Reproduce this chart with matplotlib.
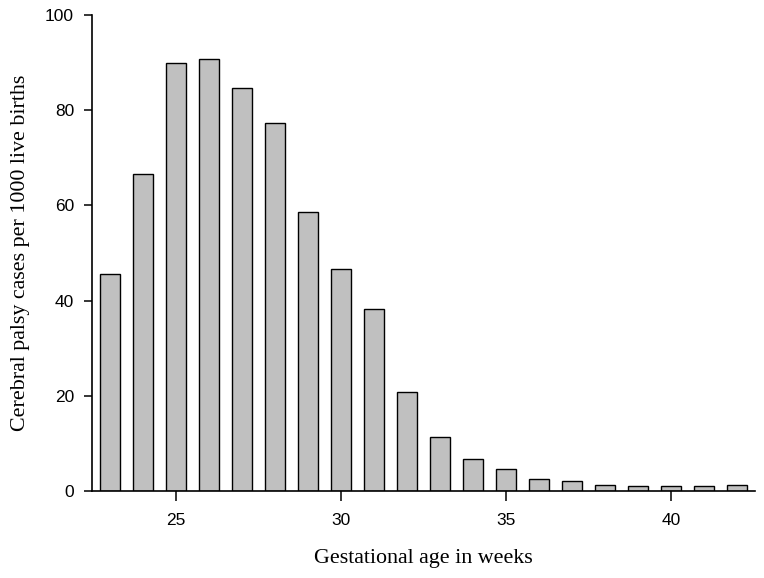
import numpy as np
import matplotlib
matplotlib.use("Agg")
import matplotlib.pyplot as plt

# gestational age (weeks) and CP rate per 1000 live births
weeks = [23, 24, 25, 26, 27, 28, 29, 30, 31, 32, 33, 34, 35, 36, 37, 38, 39, 40, 41, 42]
rate = [45.5, 66.6, 90.0, 90.7, 84.6, 77.3, 58.6, 46.6, 38.3, 20.9, 11.3, 6.7, 4.7, 2.5,
        2.0, 1.2, 1.0, 0.95, 1.0, 1.2]

xticks = [25, 30, 35, 40]
yticks = [0, 20, 40, 60, 80, 100]

fig = plt.figure(figsize=(7.64, 5.78), dpi=100)
ax = fig.add_axes([0.1205, 0.1505, 0.868, 0.8235])

ax.bar(weeks, rate, width=0.6, color='#c0c0c0', edgecolor='black', linewidth=1.0)

ax.set_xlim(22.45, 42.55)
ax.set_ylim(0, 100)
ax.set_xticks(xticks)
ax.set_yticks(yticks)

for s in ['top', 'right']:
    ax.spines[s].set_visible(False)
for s in ['left', 'bottom']:
    ax.spines[s].set_linewidth(1.2)

ax.tick_params(axis='x', direction='out', length=7, width=1.1, pad=9, labelsize=12.5)
ax.tick_params(axis='y', direction='out', length=6, width=1.1, pad=7, labelsize=12.5)
for lab in ax.get_xticklabels() + ax.get_yticklabels():
    lab.set_fontfamily('Liberation Sans')

ax.set_xlabel('Gestational age in weeks', fontfamily='Liberation Serif', fontsize=15.8, labelpad=15)
ax.set_ylabel('Cerebral palsy cases per 1000 live births', fontfamily='Liberation Serif', fontsize=15.8, labelpad=11)

fig.savefig('out.png', dpi=100)
